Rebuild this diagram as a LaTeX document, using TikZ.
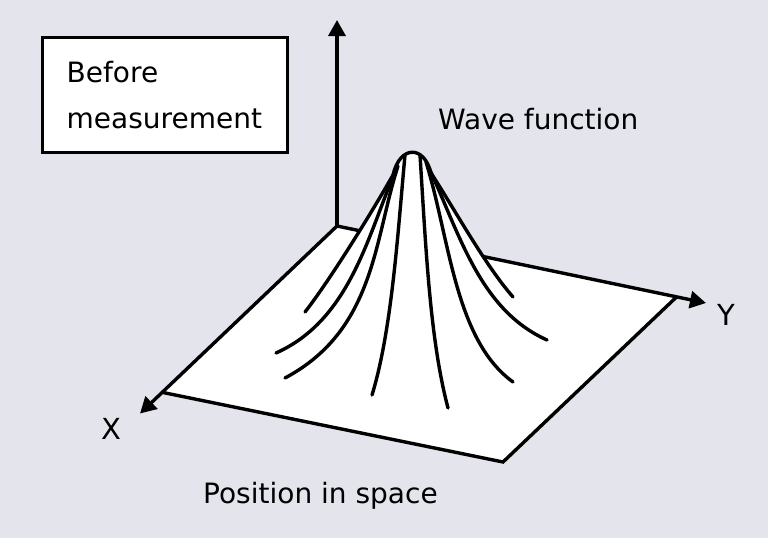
\documentclass[tikz,border=0pt]{standalone}
\usepackage{fontspec}
\setmainfont{DejaVu Sans}
\usetikzlibrary{arrows.meta}
\definecolor{bg}{RGB}{228,228,236}
\begin{document}
\begin{tikzpicture}[x=1pt,y=-1pt,
  axisline/.style={line width=3.4pt},
  axisarrow/.style={line width=3.4pt,-{Triangle[length=16pt,width=17pt]}},
  humpline/.style={line width=3.4pt,line cap=round},
  lbl/.style={font=\fontsize{28}{34}\selectfont, inner sep=0pt, anchor=base west},
  axlbl/.style={font=\fontsize{29}{34}\selectfont, inner sep=0pt, anchor=base},
  ]
\fill[bg] (0,0) rectangle (768,538);
\useasboundingbox (0,0) rectangle (768,538);

% box
\node[draw, line width=2.8pt, fill=white, minimum width=245pt, minimum height=115pt,
      inner sep=0pt, anchor=north west] (box) at (41,36) {};
\node[lbl] (before) at (66.5,82) {Before};
\node[lbl] (meas) at (66.5,128) {measurement};

% plane
\coordinate (O) at (337,226);
\coordinate (L) at (163,392.5);
\coordinate (B) at (503,462);
\coordinate (R) at (676.5,297);
\coordinate (Ztip) at (337,20);
\coordinate (Xtip) at (140,413.5);
\coordinate (Ytip) at (706,303);

\fill[white] (O) -- (L) -- (B) -- (R) -- cycle;
\draw[axisarrow] (O) -- (Ztip);
\draw[axisarrow] (O) -- (Xtip);
\draw[axisarrow] (O) -- (Ytip);
\draw[axisline] (L) -- (B) -- (R);

% hump fill
\fill[white] (393,175) .. controls (400,145) and (424,145) .. (431,173)
  .. controls (455,210) and (485,265) .. (513,297)
  -- (305,312) .. controls (330,280) and (372,212) .. (393,175) -- cycle;

% hump cap
\draw[humpline] (393,175) .. controls (400,145) and (424,145) .. (431,173);
% hump curves
\draw[humpline] (393,175) .. controls (372,212) and (330,280) .. (305,312);
\draw[humpline] (395,172) .. controls (368,235) and (350,320) .. (276,353);
\draw[humpline] (398,166) .. controls (374,240) and (375,330) .. (285,378);
\draw[humpline] (405,155) .. controls (398,230) and (392,330) .. (372,395);
\draw[humpline] (420,155) .. controls (426,250) and (430,340) .. (448,408);
\draw[humpline] (426,162) .. controls (450,240) and (455,340) .. (513,382);
\draw[humpline] (429,168) .. controls (460,235) and (480,310) .. (547,340);
\draw[humpline] (431,173) .. controls (455,210) and (485,265) .. (513,297);

% labels
\node[lbl] (wave) at (438,129) {Wave function};
\node[lbl] (pos) at (203,503) {Position in space};
\node[axlbl] (xl) at (111.5,439) {X};
\node[axlbl] (yl) at (726,325) {Y};
\end{tikzpicture}
\end{document}
